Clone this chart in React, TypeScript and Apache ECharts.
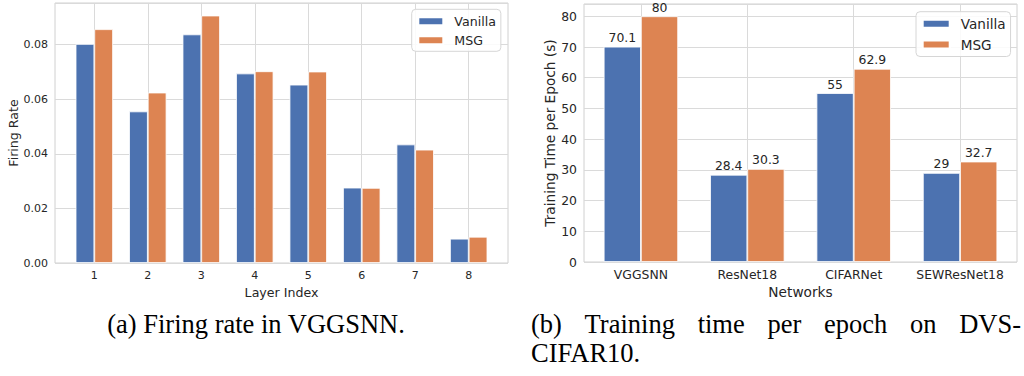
import React, { useEffect, useRef } from 'react';
import * as echarts from 'echarts';

// ---- data ----
const layers = ['1', '2', '3', '4', '5', '6', '7', '8'];
const layerPos = [1, 2, 3, 4, 5, 6, 7, 8];
const firingVanilla = [0.0802, 0.0555, 0.0837, 0.0694, 0.0653, 0.0276, 0.0434, 0.0089];
const firingMSG = [0.0856, 0.0624, 0.0906, 0.0702, 0.0701, 0.0275, 0.0415, 0.0096];

const networks = ['VGGSNN', 'ResNet18', 'CIFARNet', 'SEWResNet18'];
const netPos = [0, 1, 2, 3];
const timeVanilla = [70.1, 28.4, 55, 29];
const timeMSG = [80, 30.3, 62.9, 32.7];

const seriesNames = ['Vanilla', 'MSG'];
const captionA = '(a) Firing rate in VGGSNN.';
const captionB1 = ['(b)', 'Training', 'time', 'per', 'epoch', 'on', 'DVS-'];
const captionB2 = 'CIFAR10.';

const BLUE = '#4C72B0';
const ORANGE = '#DD8452';
const TXT = '#262626';
const GRID = '#dadada';
const SANS = '"DejaVu Sans", sans-serif';
const SERIF = '"Liberation Serif", "Times New Roman", serif';

export default function App() {
  const ref = useRef<HTMLDivElement>(null);

  useEffect(() => {
    if (!ref.current) return;
    const chart = echarts.init(ref.current, undefined, { renderer: 'svg' });

    const capSize = 26.5;
    const capLH = 22;
    const cv = document.createElement('canvas').getContext('2d')!;
    cv.font = `${capSize}px "Liberation Serif"`;
    const widths = captionB1.map((w) => cv.measureText(w).width);
    const total = widths.reduce((a, b) => a + b, 0);
    const lineL = 531;
    const lineR = 1021;
    const gap = (lineR - lineL - total) / (captionB1.length - 1);
    let cx = lineL;
    const wordEls: any[] = captionB1.map((w, i) => {
      const el = {
        type: 'text',
        x: cx,
        y: 324,
        style: { text: w, font: `${capSize}px ${SERIF}`, lineHeight: capLH, fill: '#000', align: 'left', verticalAlign: 'middle' },
      };
      cx += widths[i] + gap;
      return el;
    });

    const axisCommon = () => ({
      axisLine: { show: false },
      splitLine: { show: true, lineStyle: { color: GRID, width: 1 } },
    });

    const legendCommon = (fs: number, lh: number) => ({
      data: seriesNames,
      orient: 'vertical',
      icon: 'rect',
      selectedMode: false,
      borderColor: '#d6d6d6',
      borderWidth: 1,
      borderRadius: 4,
      backgroundColor: 'rgba(255,255,255,0.85)',
      textStyle: { color: TXT, fontSize: fs, fontFamily: SANS, lineHeight: lh, padding: [0, 0, 0, 6] },
    });

    const barStyle = (c: string) => ({ color: c, borderColor: '#ffffff', borderWidth: 0.8 });
    const valueLabel = {
      show: true, position: 'top', distance: 3, color: TXT, fontSize: 12.4, fontFamily: SANS,
      formatter: (p: any) => String(p.value[1]),
    };

    chart.setOption({
      animation: false,
      backgroundColor: '#ffffff',
      textStyle: { fontFamily: SANS },
      grid: [
        { left: 55, top: 3, width: 453, height: 260, show: true, borderColor: '#d0d0d0', borderWidth: 1, backgroundColor: 'transparent' },
        { left: 584, top: 4, width: 433, height: 258, show: true, borderColor: '#d0d0d0', borderWidth: 1, backgroundColor: 'transparent' },
      ],
      legend: [
        { ...legendCommon(12.6, 14), left: 411.7, top: 9.3, itemWidth: 25, itemHeight: 8, itemGap: 5, padding: [5, 5, 4, 5.6] },
        { ...legendCommon(13.6, 15), left: 916, top: 11.7, itemWidth: 27, itemHeight: 8, itemGap: 5.8, padding: [4.5, 5, 4.5, 5.7] },
      ],
      xAxis: [
        {
          ...axisCommon(),
          type: 'value',
          gridIndex: 0,
          min: 0.265,
          max: 8.735,
          axisTick: { show: false, customValues: layerPos },
          axisLabel: {
            color: TXT, fontSize: 11, fontFamily: SANS, margin: 7,
            customValues: layerPos,
            formatter: (v: number) => layers[layerPos.indexOf(v)] ?? '',
          },
          name: 'Layer Index',
          nameLocation: 'middle',
          nameGap: 19,
          nameTextStyle: { color: TXT, fontFamily: SANS, fontSize: 12.6 },
        },
        {
          ...axisCommon(),
          type: 'value',
          gridIndex: 1,
          min: -0.535,
          max: 3.535,
          axisTick: { show: false, customValues: netPos },
          axisLabel: {
            color: TXT, fontSize: 12.4, fontFamily: SANS, margin: 6,
            customValues: netPos,
            formatter: (v: number) => networks[netPos.indexOf(v)] ?? '',
          },
          name: 'Networks',
          nameLocation: 'middle',
          nameGap: 21,
          nameTextStyle: { color: TXT, fontFamily: SANS, fontSize: 13.7 },
        },
      ],
      yAxis: [
        {
          ...axisCommon(),
          type: 'value',
          gridIndex: 0,
          min: 0,
          max: 0.0952,
          interval: 0.02,
          axisTick: { show: false },
          axisLabel: { color: TXT, fontSize: 11, fontFamily: SANS, margin: 7, showMaxLabel: false, formatter: (v: number) => v.toFixed(2) },
          name: 'Firing Rate',
          nameLocation: 'middle',
          nameGap: 34,
          nameTextStyle: { color: TXT, fontFamily: SANS, fontSize: 12.6 },
        },
        {
          ...axisCommon(),
          type: 'value',
          gridIndex: 1,
          min: 0,
          max: 84,
          interval: 10,
          axisTick: { show: false },
          axisLabel: { color: TXT, fontSize: 12.4, fontFamily: SANS, margin: 7, showMaxLabel: false },
          name: 'Training Time per Epoch (s)',
          nameLocation: 'middle',
          nameGap: 25,
          nameTextStyle: { color: TXT, fontFamily: SANS, fontSize: 13.7 },
        },
      ],
      series: [
        {
          type: 'bar', name: 'Vanilla', xAxisIndex: 0, yAxisIndex: 0,
          data: layerPos.map((x, i) => [x, firingVanilla[i]]),
          barWidth: 18.7, barGap: '0%', itemStyle: barStyle(BLUE),
        },
        {
          type: 'bar', name: 'MSG', xAxisIndex: 0, yAxisIndex: 0,
          data: layerPos.map((x, i) => [x, firingMSG[i]]),
          barWidth: 18.7, barGap: '0%', itemStyle: barStyle(ORANGE),
        },
        {
          type: 'bar', name: 'Vanilla', xAxisIndex: 1, yAxisIndex: 1,
          data: netPos.map((x, i) => [x, timeVanilla[i]]),
          barWidth: 37.2, barGap: '0%', itemStyle: barStyle(BLUE), label: valueLabel,
        },
        {
          type: 'bar', name: 'MSG', xAxisIndex: 1, yAxisIndex: 1,
          data: netPos.map((x, i) => [x, timeMSG[i]]),
          barWidth: 37.2, barGap: '0%', itemStyle: barStyle(ORANGE), label: valueLabel,
        },
      ],
      graphic: [
        {
          type: 'text', x: 256, y: 324,
          style: { text: captionA, font: `${capSize}px ${SERIF}`, lineHeight: capLH, fill: '#000', align: 'center', verticalAlign: 'middle' },
        },
        ...wordEls,
        {
          type: 'text', x: lineL, y: 353,
          style: { text: captionB2, font: `${capSize}px ${SERIF}`, lineHeight: capLH, fill: '#000', align: 'left', verticalAlign: 'middle' },
        },
      ],
    });

    return () => chart.dispose();
  }, []);

  return <div ref={ref} style={{ position: 'fixed', left: 0, top: 0, width: 1024, height: 376 }} />;
}
